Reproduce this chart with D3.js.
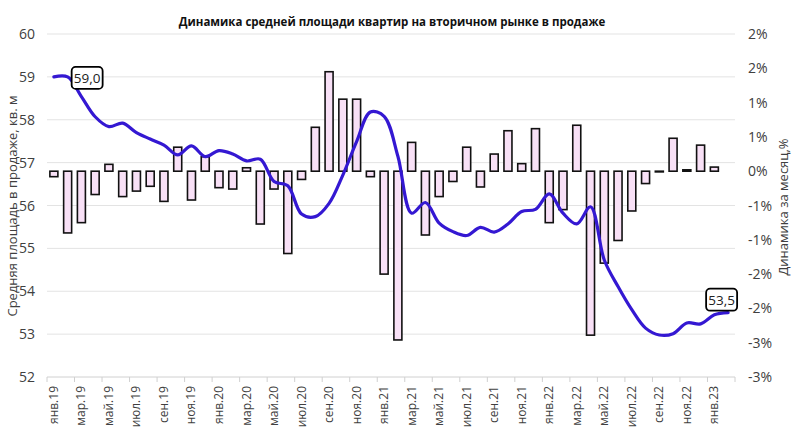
<!DOCTYPE html>
<html>
<head>
<meta charset="utf-8">
<script src="https://cdn.jsdelivr.net/npm/d3@7"></script>
<style>
  html, body { margin: 0; padding: 0; background: #fff; }
  svg { display: block; font-family: "Open Sans", "Noto Sans", sans-serif; }
</style>
</head>
<body>
<svg id="chart" width="800" height="442"></svg>
<script>
const months = [
  "янв.19","фев.19","мар.19","апр.19","май.19","июн.19","июл.19","авг.19","сен.19","окт.19","ноя.19","дек.19",
  "янв.20","фев.20","мар.20","апр.20","май.20","июн.20","июл.20","авг.20","сен.20","окт.20","ноя.20","дек.20",
  "янв.21","фев.21","мар.21","апр.21","май.21","июн.21","июл.21","авг.21","сен.21","окт.21","ноя.21","дек.21",
  "янв.22","фев.22","мар.22","апр.22","май.22","июн.22","июл.22","авг.22","сен.22","окт.22","ноя.22","дек.22",
  "янв.23","фев.23"
];
const avgArea = [
  59.00, 59.00, 58.54, 58.07, 57.84, 57.92, 57.70, 57.55, 57.41, 57.18, 57.39, 57.14,
  57.28, 57.20, 57.04, 57.08, 56.56, 56.46, 55.80, 55.74, 56.05, 56.71, 57.49, 58.18,
  58.08, 57.15, 55.82, 56.07, 55.59, 55.39, 55.30, 55.49, 55.38, 55.57, 55.86, 55.91,
  56.27, 55.82, 55.57, 55.97, 54.73, 54.11, 53.57, 53.14, 52.98, 53.01, 53.26, 53.24,
  53.45, 53.50
];
const monthlyChange = [
  -0.08, -0.90, -0.75, -0.34, 0.10, -0.37, -0.29, -0.22, -0.44, 0.35, -0.42, 0.21,
  -0.24, -0.26, 0.05, -0.77, -0.26, -1.20, -0.12, 0.64, 1.45, 1.05, 1.05, -0.08,
  -1.50, -2.46, 0.42, -0.93, -0.37, -0.15, 0.35, -0.23, 0.25, 0.59, 0.11, 0.62,
  -0.75, -0.56, 0.67, -2.39, -1.34, -1.01, -0.58, -0.18, -0.01, 0.48, 0.02, 0.38,
  0.06, null
];
const leftTicks = [52, 53, 54, 55, 56, 57, 58, 59, 60];
const rightTicks = [-3, -2.5, -2, -1.5, -1, -0.5, 0, 0.5, 1, 1.5, 2];
const labelIdx = [1, 49];
const titleText = "Динамика средней площади квартир на вторичном рынке в продаже";
const leftTitle = "Средняя площадь в продаже, кв. м";
const rightTitle = "Динамика за месяц,%";

const svg = d3.select("#chart");
const M = { left: 47, right: 735, top: 34, bottom: 377 };

const x = d3.scaleBand().domain(months).range([M.left, M.right]).paddingInner(0).paddingOuter(0);
const yL = d3.scaleLinear().domain([52, 60]).range([M.bottom, M.top]);
const yR = d3.scaleLinear().domain([-3, 2]).range([M.bottom, M.top]);
const cx = d => x(d) + x.bandwidth() / 2;

// gridlines
svg.append("g").selectAll("line").data(leftTicks.slice(1)).join("line")
  .attr("x1", M.left).attr("x2", M.right)
  .attr("y1", d => yL(d)).attr("y2", d => yL(d))
  .attr("stroke", "#e3e3e3").attr("stroke-width", 1);

// bottom axis line + ticks
const gx = svg.append("g").attr("transform", `translate(0,${M.bottom})`);
gx.append("line").attr("x1", M.left).attr("x2", M.right).attr("y1", 0).attr("y2", 0)
  .attr("stroke", "#d0d0d0").attr("stroke-width", 1);
const boundaries = months.filter((m, i) => i % 2 === 0).map(m => x(m));
boundaries.push(M.right);
gx.selectAll("line.t").data(boundaries).join("line").attr("class", "t")
  .attr("x1", d => d).attr("x2", d => d).attr("y1", 0).attr("y2", 5)
  .attr("stroke", "#d0d0d0").attr("stroke-width", 1);
gx.selectAll("text").data(months.filter((m, i) => i % 2 === 0 && i < 49)).join("text")
  .attr("transform", d => `translate(${cx(d) + 4},9) rotate(-90)`)
  .attr("text-anchor", "end")
  .attr("font-size", 12).attr("fill", "#404040")
  .text(d => d);

// left axis labels
svg.append("g").selectAll("text").data(leftTicks).join("text")
  .attr("x", 35).attr("y", d => yL(d) + 5)
  .attr("text-anchor", "end").attr("font-size", 14).attr("fill", "#404040")
  .text(d => d);

// right axis labels
const fmtR = v => { const r = Math.sign(v) * Math.round(Math.abs(v)); return (r === 0 ? 0 : r) + "%"; };
svg.append("g").selectAll("text").data(rightTicks).join("text")
  .attr("x", 748).attr("y", d => yR(d) + 5)
  .attr("text-anchor", "start").attr("font-size", 14).attr("fill", "#404040")
  .text(d => fmtR(d));

// bars
const bw = 8;
svg.append("g").selectAll("rect").data(months.map((m, i) => ({ m, v: monthlyChange[i] })).filter(d => d.v !== null))
  .join("rect")
  .attr("x", d => cx(d.m) - bw / 2)
  .attr("width", bw)
  .attr("y", d => Math.min(yR(d.v), yR(0)))
  .attr("height", d => Math.max(Math.abs(yR(d.v) - yR(0)), 0.6))
  .attr("fill", "#f8e0f6").attr("stroke", "#111").attr("stroke-width", 1.6);

// line
const line = d3.line().x((d, i) => cx(months[i])).y(d => yL(d)).curve(d3.curveCatmullRom.alpha(0.5));
svg.append("path").datum(avgArea).attr("d", line)
  .attr("fill", "none").attr("stroke", "#3418d2").attr("stroke-width", 3.2)
  .attr("stroke-linecap", "round").attr("stroke-linejoin", "round");

// data labels
const fmtL = v => v.toFixed(1).replace(".", ",");
const lab1 = svg.append("g");
{
  const i = labelIdx[0], v = avgArea[i];
  const bx = cx(months[i]) + 4, by = yL(v) - 10;
  lab1.append("rect").attr("x", bx).attr("y", by).attr("width", 31).attr("height", 22).attr("rx", 4)
    .attr("fill", "#fff").attr("stroke", "#000").attr("stroke-width", 1.8);
  lab1.append("text").attr("x", bx + 15.5).attr("y", by + 16).attr("text-anchor", "middle")
    .attr("font-size", 13.5).attr("fill", "#222").text(fmtL(v));
}
{
  const i = labelIdx[1], v = avgArea[i];
  const bx = cx(months[i]) - 22, by = yL(v) - 24;
  lab1.append("rect").attr("x", bx).attr("y", by).attr("width", 31).attr("height", 22).attr("rx", 4)
    .attr("fill", "#fff").attr("stroke", "#000").attr("stroke-width", 1.8);
  lab1.append("text").attr("x", bx + 15.5).attr("y", by + 16).attr("text-anchor", "middle")
    .attr("font-size", 13.5).attr("fill", "#222").text(fmtL(v));
}

// titles
svg.append("text").attr("x", 392).attr("y", 26).attr("text-anchor", "middle")
  .attr("font-size", 11.5).attr("font-weight", "bold").attr("fill", "#111").text(titleText);
svg.append("text").attr("transform", "translate(17,206) rotate(-90)").attr("text-anchor", "middle")
  .attr("font-size", 13).attr("fill", "#404040").text(leftTitle);
svg.append("text").attr("transform", "translate(788,207) rotate(-90)").attr("text-anchor", "middle")
  .attr("font-size", 13).attr("fill", "#404040").text(rightTitle);
</script>
</body>
</html>
